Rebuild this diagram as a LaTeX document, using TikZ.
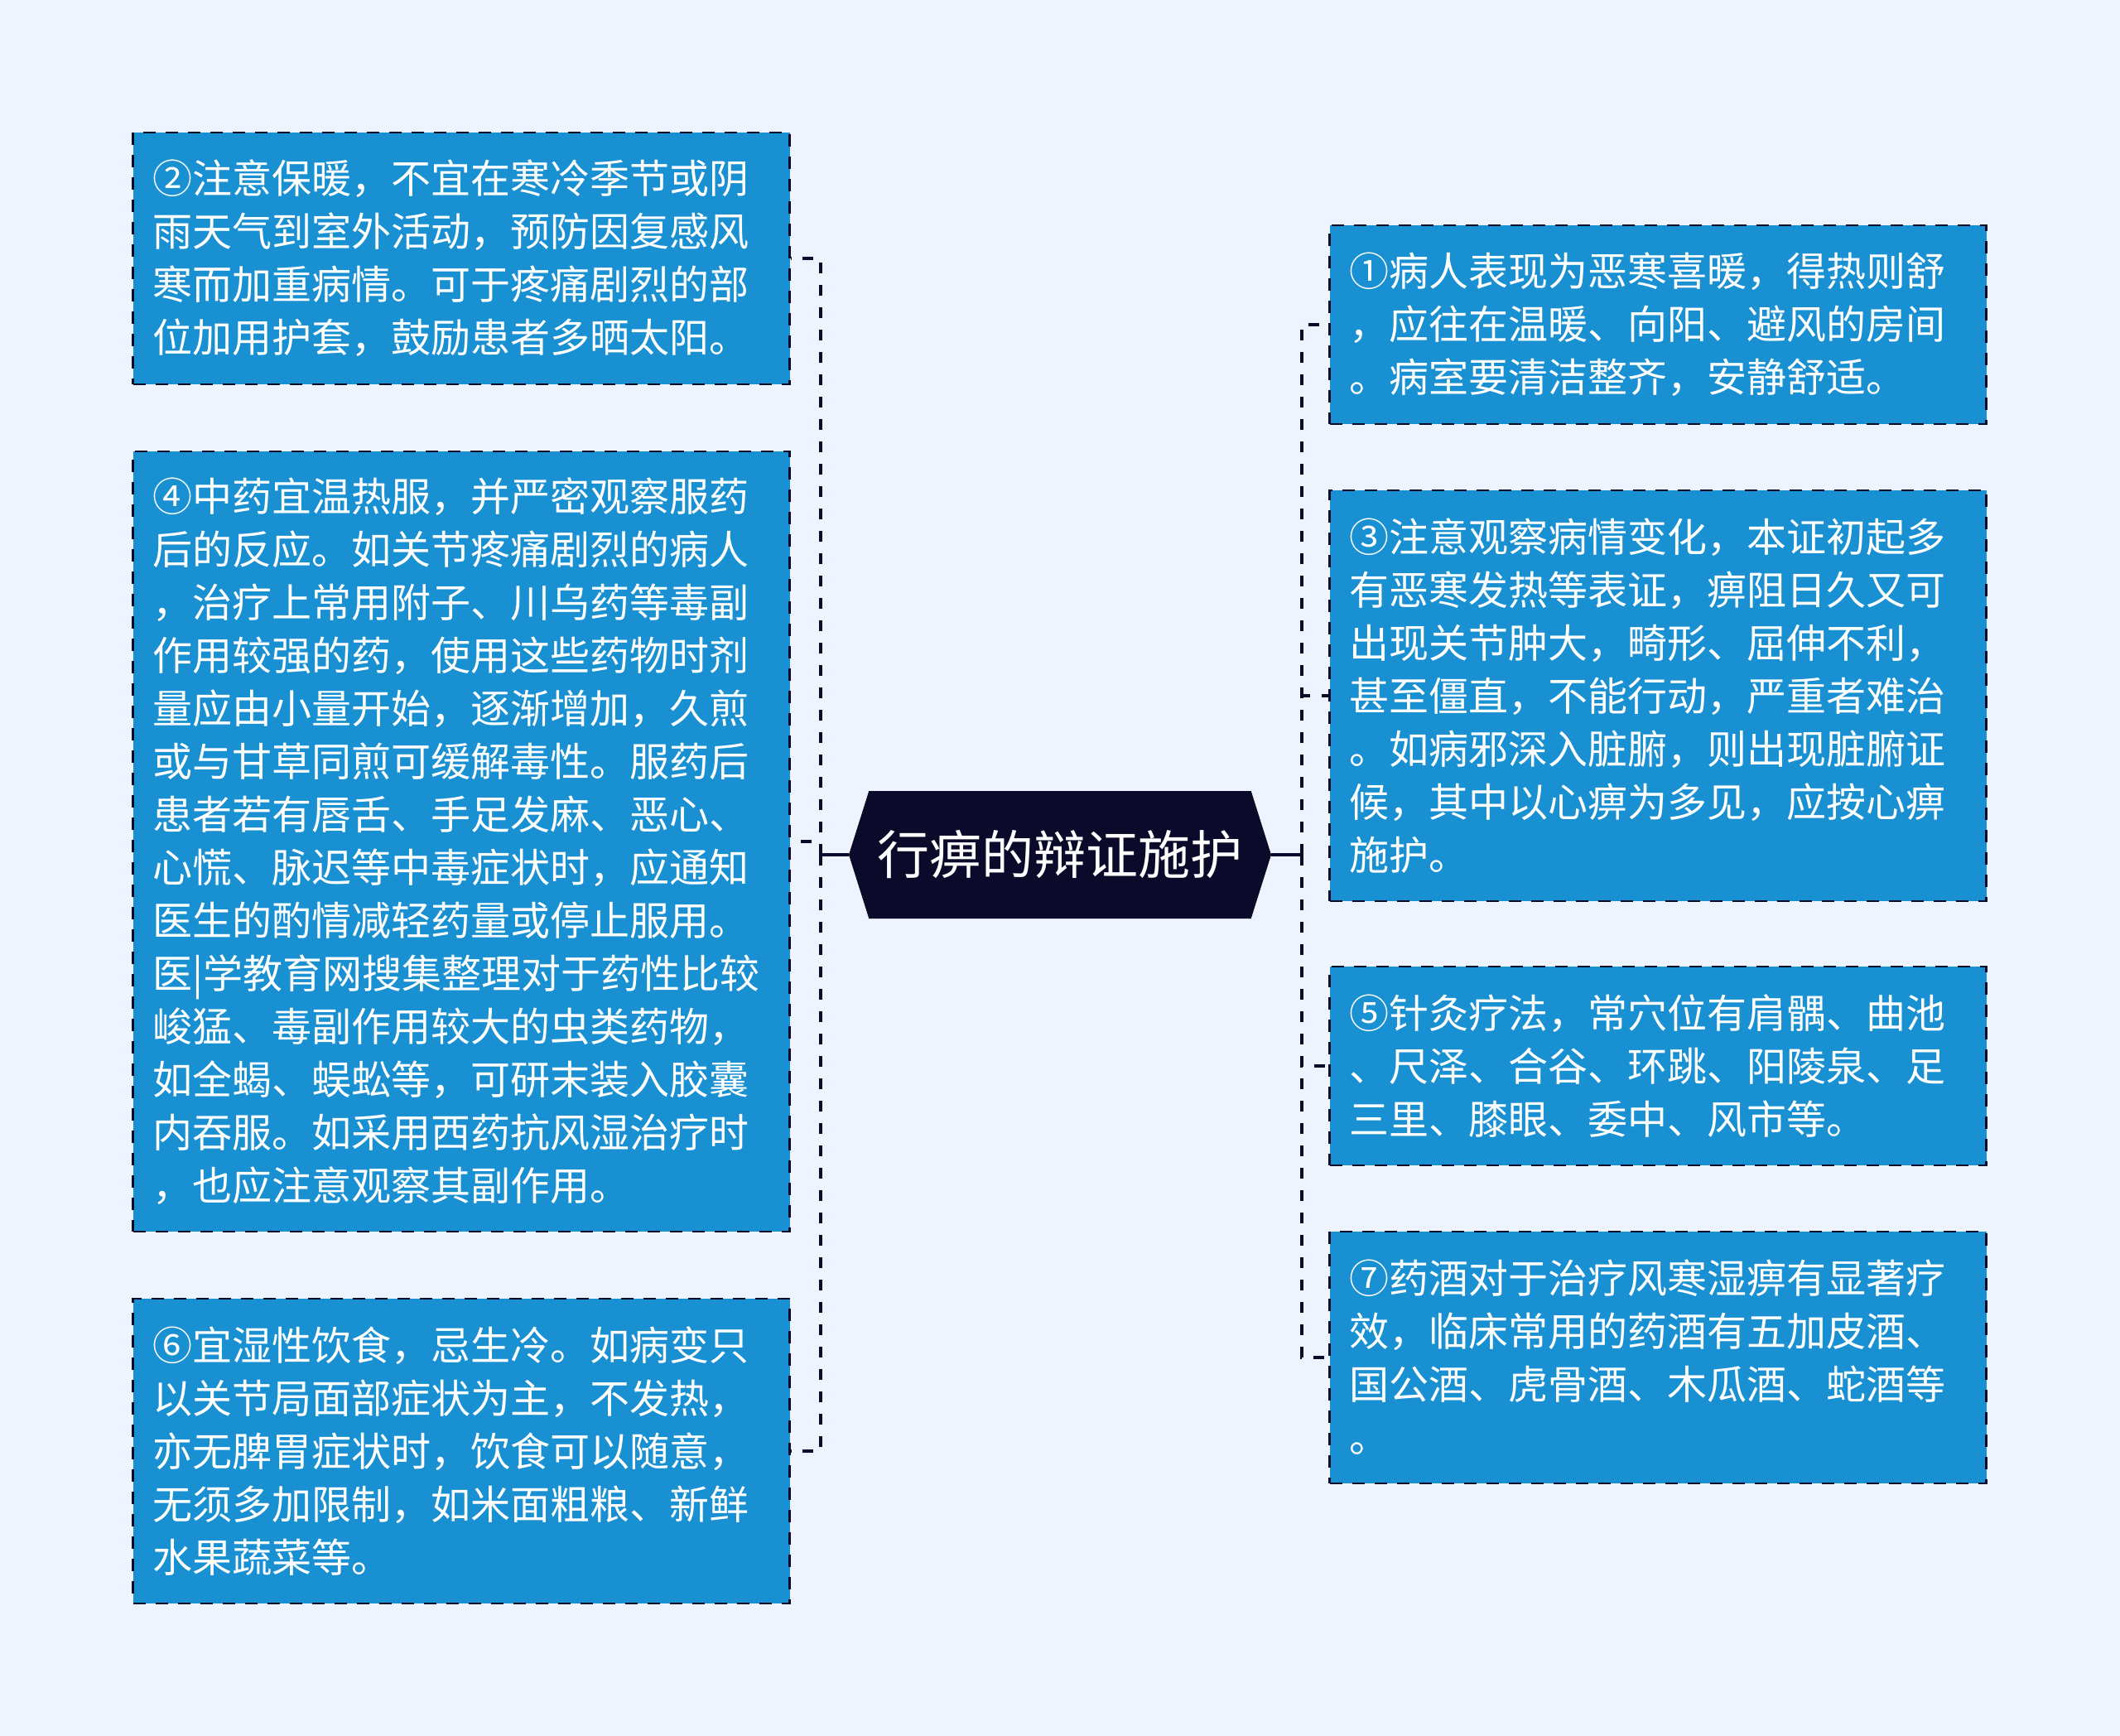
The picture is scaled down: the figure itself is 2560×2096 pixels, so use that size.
\documentclass[tikz,border=0pt]{standalone}
\usepackage{fontspec}
\setmainfont{Noto Sans CJK SC}
\usetikzlibrary{shapes.symbols}
\definecolor{pagebg}{HTML}{EEF4FE}
\definecolor{leafblue}{HTML}{1890D2}
\definecolor{inkdark}{HTML}{0B0A2B}

\tikzset{
  leaf/.style={draw=inkdark, dash pattern=on 7.5pt off 6pt, line width=1.2pt,
    fill=leafblue, text=white, align=left, text width=372.5pt,
    inner xsep=12pt, inner ysep=0pt, font=\fontsize{24}{32}\selectfont},
  rootbox/.style={signal, signal to=west and east, signal pointer angle=145,
    fill=inkdark, text=white, minimum width=255pt, minimum height=77pt,
    inner sep=0pt, font=\fontsize{31.5}{36}\selectfont},
  stem/.style={draw=inkdark, line width=2.2pt},
  twig/.style={draw=inkdark, line width=2.3pt, dash pattern=on 6.5pt off 7pt},
}

\begin{document}
\begin{tikzpicture}[x=0.5pt, y=-0.5pt]
\useasboundingbox (0,0) rectangle (2560,2096);
\fill[pagebg] (0,0) rectangle (2560,2096);

% centre
\node[rootbox] (root) at (1280,1032) {行痹的辩证施护};
\coordinate (lhub) at (991,1032);
\coordinate (rhub) at (1572,1032);

% left side
\node[leaf, minimum height=152pt] (b2) at (557,312)
  {②注意保暖，不宜在寒冷季节或阴\\雨天气到室外活动，预防因复感风\\寒而加重病情。可于疼痛剧烈的部\\位加用护套，鼓励患者多晒太阳。};
\node[leaf, minimum height=471pt] (b4) at (557,1016)
  {④中药宜温热服，并严密观察服药\\后的反应。如关节疼痛剧烈的病人\\，治疗上常用附子、川乌药等毒副\\作用较强的药，使用这些药物时剂\\量应由小量开始，逐渐增加，久煎\\或与甘草同煎可缓解毒性。服药后\\患者若有唇舌、手足发麻、恶心、\\心慌、脉迟等中毒症状时，应通知\\医生的酌情减轻药量或停止服用。\\医|学教育网搜集整理对于药性比较\\峻猛、毒副作用较大的虫类药物，\\如全蝎、蜈蚣等，可研末装入胶囊\\内吞服。如采用西药抗风湿治疗时\\，也应注意观察其副作用。};
\node[leaf, minimum height=184pt] (b6) at (557,1752)
  {⑥宜湿性饮食，忌生冷。如病变只\\以关节局面部症状为主，不发热，\\亦无脾胃症状时，饮食可以随意，\\无须多加限制，如米面粗粮、新鲜\\水果蔬菜等。};

% right side
\node[leaf, minimum height=120pt] (b1) at (2002,392)
  {①病人表现为恶寒喜暖，得热则舒\\，应往在温暖、向阳、避风的房间\\。病室要清洁整齐，安静舒适。};
\node[leaf, minimum height=248pt] (b3) at (2002,840)
  {③注意观察病情变化，本证初起多\\有恶寒发热等表证，痹阻日久又可\\出现关节肿大，畸形、屈伸不利，\\甚至僵直，不能行动，严重者难治\\。如病邪深入脏腑，则出现脏腑证\\候，其中以心痹为多见，应按心痹\\施护。};
\node[leaf, minimum height=120pt] (b5) at (2002,1287)
  {⑤针灸疗法，常穴位有肩髃、曲池\\、尺泽、合谷、环跳、阳陵泉、足\\三里、膝眼、委中、风市等。};
\node[leaf, minimum height=152pt] (b7) at (2002,1639)
  {⑦药酒对于治疗风寒湿痹有显著疗\\效，临床常用的药酒有五加皮酒、\\国公酒、虎骨酒、木瓜酒、蛇酒等\\。};

% connectors
\draw[stem] (root.west) -- (lhub);
\draw[stem] (root.east) -- (rhub);
\foreach \b in {b2,b4,b6}
  \draw[twig] (lhub) |- (\b.east);
\foreach \b in {b1,b3,b5,b7}
  \draw[twig] (rhub) |- (\b.west);
\end{tikzpicture}
\end{document}
